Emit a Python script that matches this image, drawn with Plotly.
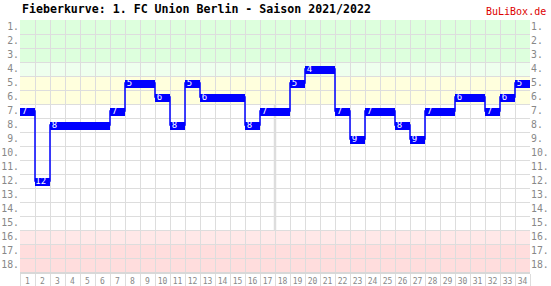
import plotly.graph_objects as go

matchdays = list(range(1, 35))
positions = [7, 12, 8, 8, 8, 8, 7, 5, 5, 6, 8, 5, 6, 6, 6, 8, 7, 7, 5, 4,
             4, 7, 9, 7, 7, 8, 9, 7, 7, 6, 6, 7, 6, 5]
rank_labels = [f"{i}." for i in range(1, 19)]
title_text = "Fieberkurve: 1. FC Union Berlin - Saison 2021/2022"
brand_text = "BuLiBox.de"

# background zones: (from rank, to rank, color)
zones = [(1, 3, "#ddffdd"), (4, 4, "#eeffee"), (5, 6, "#ffffdd"),
         (16, 16, "#ffe8e8"), (17, 18, "#ffdddd")]

BAR_H = 0.58
fig = go.Figure()

# step connector line
step_x = [m - 0.5 for m in matchdays] + [matchdays[-1] + 0.5]
step_y = positions + [positions[-1]]
fig.add_trace(go.Scatter(x=step_x, y=step_y, mode="lines", line_shape="hv",
                         line=dict(color="#0000ff", width=1.5),
                         hoverinfo="skip", showlegend=False))

# thick horizontal bars
fig.add_trace(go.Bar(x=matchdays, y=[BAR_H] * len(positions),
                     base=[p - BAR_H / 2 + 0.05 for p in positions],
                     width=1.0, marker=dict(color="#0000ff", line_width=0),
                     hoverinfo="skip", showlegend=False))

# labels at the start of each run
lx, ly, lt = [], [], []
for i, (m, p) in enumerate(zip(matchdays, positions)):
    if i == 0 or positions[i - 1] != p:
        lx.append(m - 0.5 + (0.12 if p < 10 else 0.02))
        ly.append(p + 0.05)
        lt.append(str(p))
fig.add_trace(go.Scatter(x=lx, y=ly, text=lt, mode="text",
                         textposition="middle right",
                         textfont=dict(color="white", size=9, family="DejaVu Sans Mono"),
                         hoverinfo="skip", showlegend=False))

# right axis labels holder
fig.add_trace(go.Scatter(x=[None], y=[None], yaxis="y2", showlegend=False,
                         hoverinfo="skip"))

for a, b, c in zones:
    fig.add_shape(type="rect", xref="x", yref="y", x0=0.5, x1=34.5,
                  y0=a - 0.5, y1=b + 0.5, fillcolor=c, line_width=0, layer="below")

# mid-season divider
fig.add_shape(type="line", xref="x", yref="paper", x0=17.5, x1=17.5, y0=0, y1=1,
              line=dict(color="#dddddd", width=2.5), layer="below")

fig.add_annotation(text=title_text, xref="paper", yref="paper", x=0, y=1,
                   xanchor="left", yanchor="bottom", yshift=2, showarrow=False,
                   font=dict(family="DejaVu Sans Mono", size=11.6, color="black",
                             weight="bold"))
fig.add_annotation(text=brand_text, xref="paper", yref="paper", x=1.035, y=1,
                   xanchor="right", yanchor="bottom", yshift=1, showarrow=False,
                   font=dict(family="DejaVu Sans Mono", size=10, color="#dd0000"))

fig.update_layout(
    width=551, height=286,
    margin=dict(l=20, r=21, t=20, b=14),
    paper_bgcolor="white", plot_bgcolor="white",
    bargap=0,
    xaxis=dict(range=[0.5, 34.5], tickvals=matchdays, automargin=False,
               ticktext=[str(m) for m in matchdays],
               showgrid=False, zeroline=False, ticks="", ticklen=0,
               tickfont=dict(family="DejaVu Sans Mono", size=8, color="#888888"),
               showline=True, linecolor="#d8d8d8", linewidth=2,
               minor=dict(tick0=0.5, dtick=1, showgrid=True, gridcolor="#dddddd",
                          gridwidth=1, ticks="outside", ticklen=14,
                          tickcolor="#dddddd", tickwidth=1),
               fixedrange=True),
    yaxis=dict(range=[18.5, 0.5], tickvals=list(range(1, 19)), ticktext=rank_labels,
               showgrid=False, zeroline=False, ticks="", automargin=False,
               tickfont=dict(family="DejaVu Sans Mono", size=9.8, color="#888888"),
               minor=dict(tick0=0.5, dtick=1, showgrid=True, gridcolor="#dddddd",
                          gridwidth=1),
               ticklabelstandoff=0),
    yaxis2=dict(range=[18.5, 0.5], overlaying="y", side="right", automargin=False,
                tickvals=list(range(1, 19)), ticktext=rank_labels,
                showgrid=False, zeroline=False, ticks="",
                tickfont=dict(family="DejaVu Sans Mono", size=9.8, color="#888888")),
)

fig.write_html("out.html")
